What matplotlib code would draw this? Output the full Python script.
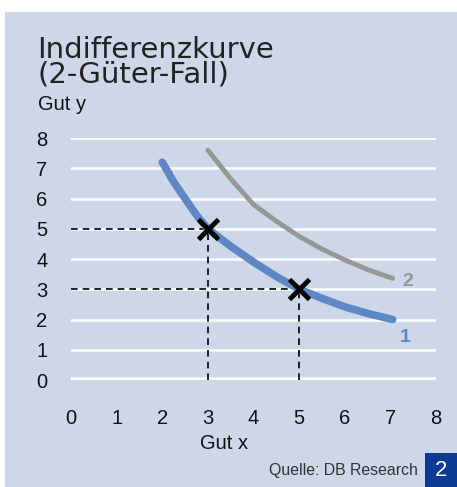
import matplotlib.pyplot as plt
from matplotlib.patches import Rectangle

# data
curve1_x = [2.0, 2.25, 2.5, 2.75, 3.0, 3.5, 4.0, 4.5, 5.0, 5.5, 6.0, 6.5, 7.05]
curve1_y = [7.2, 6.55, 6.0, 5.45, 5.0, 4.42, 3.9, 3.42, 3.0, 2.7, 2.42, 2.2, 2.0]
curve2_x = [3.0, 3.5, 4.0, 4.5, 5.0, 5.5, 6.0, 6.5, 7.05]
curve2_y = [7.6, 6.65, 5.8, 5.25, 4.75, 4.33, 3.97, 3.65, 3.36]
points_x = [3, 5]
points_y = [5, 3]
ticks = list(range(0, 9))

W, H = 457, 487
bg = '#cdd7e8'
fig = plt.figure(figsize=(W / 100, H / 100), dpi=100)
fig.patch.set_facecolor('white')

# light blue panel
fig.patches.append(Rectangle((5 / W, 0), 1 - 5 / W, 1 - 12 / H, transform=fig.transFigure,
                             facecolor=bg, edgecolor='none', zorder=0))
# blue number box
fig.patches.append(Rectangle((425 / W, 0), 32 / W, 34 / H, transform=fig.transFigure,
                             facecolor='#0b3a94', edgecolor='none', zorder=1))
fig.text(441 / W, 1 - 470 / H, '2', ha='center', va='center',
         color='white', fontsize=16, family='Liberation Sans')
fig.text(418 / W, 1 - 470 / H, 'Quelle: DB Research', ha='right', va='center',
         color='#333333', fontsize=11.4, family='Liberation Sans')

fig.text(37 / W, 1 - 62 / H, 'Indifferenzkurve\n(2-Güter-Fall)', ha='left', va='center',
         fontsize=21, color='#222222', family='DejaVu Sans', linespacing=0.82)
fig.text(38 / W, 1 - 105 / H, 'Gut y', ha='left', va='center',
         fontsize=14.5, color='#111111', family='Liberation Sans')

# axes: x 0..8 -> px 71..436, y 0..8 -> px 380..138
x0, x1 = 71, 436
y0, y1 = 380, 138
ax = fig.add_axes([x0 / W, 1 - y0 / H, (x1 - x0) / W, (y0 - y1) / H])
ax.set_zorder(3)
ax.set_facecolor('none')
ax.set_xlim(0, 8)
ax.set_ylim(0, 8)
for s in ax.spines.values():
    s.set_visible(False)

for t in ticks[1:]:
    ax.axhline(t, color='white', lw=1.8, zorder=1)
ax.axhline(0, color='white', lw=4, zorder=1)

ax.set_xticks(ticks)
ax.set_yticks(ticks)
ax.tick_params(length=0, labelsize=14.5, colors='#111111')
ax.tick_params(axis='x', pad=21)
ax.tick_params(axis='y', pad=21)
for lab in ax.get_xticklabels() + ax.get_yticklabels():
    lab.set_family('Liberation Sans')
for lab in ax.get_yticklabels():
    lab.set_horizontalalignment('center')
ax.set_xlabel('Gut x', fontsize=14.5, family='Liberation Sans', color='#111111')
ax.xaxis.set_label_coords(0.42, -0.222)

ax.plot(curve2_x, curve2_y, color='#979797', lw=3.5, solid_capstyle='round', zorder=3)
ax.plot(curve1_x, curve1_y, color='#5e87c5', lw=5.5, solid_capstyle='round', zorder=3)

for px, py in zip(points_x, points_y):
    ax.plot([0, px], [py, py], color='black', lw=1.2, ls=(0, (4, 3)), zorder=2)
    ax.plot([px, px], [0, py], color='black', lw=1.2, ls=(0, (4, 3)), zorder=2)
ax.plot(points_x, points_y, 'x', color='black', ms=14, mew=3.5, zorder=4)

ax.text(7.37, 3.25, '2', color='#979797', fontsize=14, fontweight='bold',
        family='Liberation Sans', va='center', ha='center')
ax.text(7.33, 1.4, '1', color='#5e87c5', fontsize=14, fontweight='bold',
        family='Liberation Sans', va='center', ha='center')

fig.savefig('out.png', dpi=100, facecolor=fig.get_facecolor())
